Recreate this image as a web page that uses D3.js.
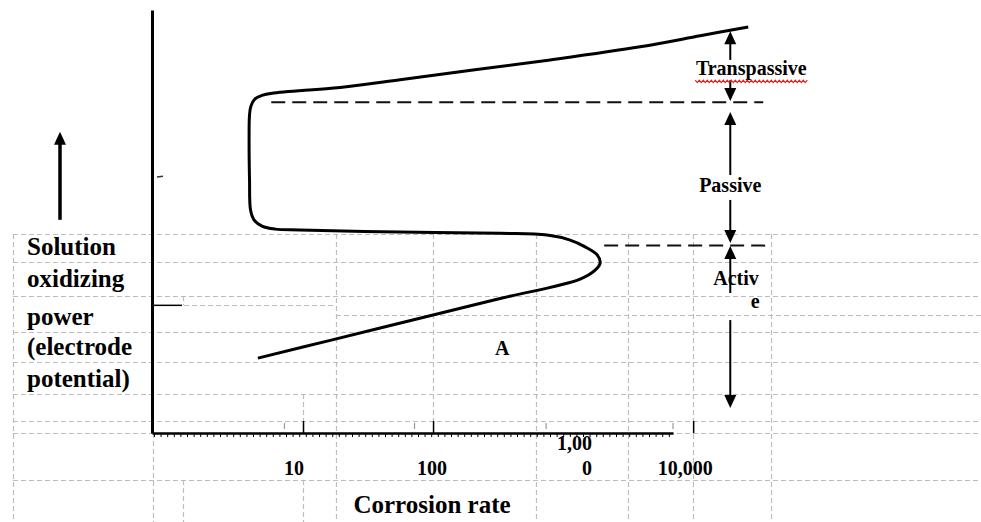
<!DOCTYPE html>
<html>
<head>
<meta charset="utf-8">
<script src="https://cdn.jsdelivr.net/npm/d3@7"></script>
<style>
  body { margin: 0; background: #fff; }
  svg { display: block; }
  text { font-family: "Liberation Serif", "Times New Roman", serif; font-weight: bold; fill: #000; }
</style>
</head>
<body>
<div id="chart"></div>
<script>
// polarization curve (corrosion rate, potential in arbitrary units)
const rate = [4.5, 16.2, 100, 328, 1353, 1764, 1927, 1829, 1478, 1133, 754, 328, 55.8, 9.5, 6.1, 4.84,
              4.2, 3.95, 3.88, 3.85, 3.88, 3.98, 4.28, 4.84, 5.78, 19.3, 55.8, 203, 795, 3916, 11330, 26530];
const potential = [177, 219, 279, 318, 364, 385, 402, 421, 440, 456, 468, 472, 475, 480, 482, 489,
                   504, 527, 598, 693, 752, 773, 790, 798, 803, 817, 835, 858, 882, 913, 939, 960];

// dashed boundaries: [potential, rate from, rate to]
const boundaries = [[782, 5.7, 34580], [443, 2069, 37100]];

// region arrows at one rate: [potential from, potential to]
const arrowRate = 19300;
const arrows = [[882, 950], [834, 785], [610, 759], [551, 449], [331, 442], [267, 59]];

const regionNames = ["Transpassive", "Passive", "Activ", "e"];
const regionLabelE = [846, 570, 350, 296];

const tickValues = [10, 100, 1000, 10000];
const tickLabelLines = [["10"], ["100"], ["1,00", "0"], ["10,000"]];
const faintTicks = [7.2, 72, 740, 7000];
const yTicks = [303];

const yTitle = ["Solution", "oxidizing", "power", "(electrode", "potential)"];
const xTitle = "Corrosion rate";
const pointLabel = { text: "A", rate: 340, e: 184 };

const width = 981, height = 522;

const svg = d3.select("#chart").append("svg")
  .attr("width", width)
  .attr("height", height);

const x = d3.scaleLog().domain([0.69, 7000]).range([152, 673]);
const y = d3.scaleLinear().domain([0, 1000]).range([433, 10]);

// table borders behind the chart (layout of the source document)
const hLines = [[234, 13, 981], [262, 13, 981], [296, 13, 981], [305, 152, 336], [315, 336, 981],
                [332, 13, 981], [362, 13, 981], [394, 13, 981], [421, 13, 981], [433, 13, 981], [480, 13, 981]];
const vLines = [[13, 234, 522], [153, 433, 522], [183, 296, 305], [183, 480, 522], [303, 394, 433],
                [303, 480, 522], [336, 234, 522], [433, 234, 433], [536, 234, 522], [628, 234, 522],
                [693, 234, 522], [771, 234, 522]];

const grid = svg.append("g")
  .attr("stroke", "#bdbdbd")
  .attr("stroke-width", 1.2)
  .attr("stroke-dasharray", "5,3");
grid.selectAll(".h").data(hLines).enter().append("line")
  .attr("x1", d => d[1]).attr("x2", d => d[2])
  .attr("y1", d => d[0] + 0.5).attr("y2", d => d[0] + 0.5);
grid.selectAll(".v").data(vLines).enter().append("line")
  .attr("x1", d => d[0] + 0.5).attr("x2", d => d[0] + 0.5)
  .attr("y1", d => d[1]).attr("y2", d => d[2]);

// y axis
const yAxis = svg.append("g")
  .attr("transform", `translate(${x.range()[0]},0)`)
  .call(d3.axisRight(y).tickValues(yTicks).tickSize(30).tickSizeOuter(0).tickFormat(""));
yAxis.select(".domain").attr("stroke", "#000").attr("stroke-width", 3);
yAxis.selectAll(".tick line").attr("stroke", "#000").attr("stroke-width", 1.5);

// x axis
const xAxis = svg.append("g")
  .attr("transform", `translate(0,${y(0)})`)
  .call(d3.axisTop(x).tickValues([10, 100, 10000]).tickSize(12).tickSizeOuter(0).tickFormat(""));
xAxis.select(".domain").attr("stroke", "#000").attr("stroke-width", 2.5);
xAxis.selectAll(".tick line").attr("stroke", "#000").attr("stroke-width", 1.5);

// little teeth under the axis
svg.append("line")
  .attr("x1", x.range()[0] + 2).attr("x2", x.range()[1])
  .attr("y1", y(0) + 2.5).attr("y2", y(0) + 2.5)
  .attr("stroke", "#000").attr("stroke-width", 3)
  .attr("stroke-dasharray", "1,5.6");

svg.selectAll(".faint").data(faintTicks).enter().append("line")
  .attr("x1", d => x(d)).attr("x2", d => x(d))
  .attr("y1", y(0) - 10).attr("y2", y(0) - 4)
  .attr("stroke", "#999").attr("stroke-width", 1.2);

// small smudge on the y axis
svg.append("line")
  .attr("x1", x.range()[0] + 5).attr("x2", x.range()[0] + 11)
  .attr("y1", y(605)).attr("y2", y(607))
  .attr("stroke", "#333").attr("stroke-width", 1.5);

// curve
const line = d3.line()
  .x(d => x(d[0]))
  .y(d => y(d[1]))
  .curve(d3.curveCatmullRom.alpha(0.5));

svg.append("path")
  .datum(rate.map((r, i) => [r, potential[i]]))
  .attr("d", line)
  .attr("fill", "none")
  .attr("stroke", "#000")
  .attr("stroke-width", 3)
  .attr("stroke-linejoin", "round");

// dashed region boundaries
svg.selectAll(".bound").data(boundaries).enter().append("line")
  .attr("x1", d => x(d[1])).attr("x2", d => x(d[2]))
  .attr("y1", d => y(d[0])).attr("y2", d => y(d[0]))
  .attr("stroke", "#111").attr("stroke-width", 2)
  .attr("stroke-dasharray", "14,7");

// region arrows
function arrowHead(g, px, tipY, dir) {
  const h = 13, w = 6;
  g.append("path")
    .attr("d", `M${px},${tipY} L${px - w},${tipY - dir * h} L${px + w},${tipY - dir * h} Z`)
    .attr("fill", "#000");
}
const ax = x(arrowRate);
const ag = svg.append("g");
arrows.forEach(a => {
  const y0 = y(a[0]), y1 = y(a[1]);
  const dir = y1 > y0 ? 1 : -1;
  ag.append("line")
    .attr("x1", ax).attr("x2", ax)
    .attr("y1", y0).attr("y2", y1 - dir * 8)
    .attr("stroke", "#000").attr("stroke-width", 2);
  arrowHead(ag, ax, y1, dir);
});

// region labels
const labelDx = [21, 0, -17, 25];
const labelAnchor = ["middle", "middle", "start", "middle"];
svg.selectAll(".region").data(regionNames).enter().append("text")
  .attr("x", (d, i) => ax + labelDx[i])
  .attr("y", (d, i) => y(regionLabelE[i]))
  .attr("text-anchor", (d, i) => labelAnchor[i])
  .style("font-size", "20px")
  .text(d => d);

// red spell-check squiggle under "Transpassive"
const sq = [];
for (let k = 0; k <= 56; k++) sq.push([ax - 35 + k * 2, y(regionLabelE[0]) + 5 + (k % 2) * 2.5]);
svg.append("path")
  .attr("d", d3.line()(sq))
  .attr("fill", "none").attr("stroke", "#e02020").attr("stroke-width", 1.1);

// point label
svg.append("text")
  .attr("x", x(pointLabel.rate)).attr("y", y(pointLabel.e))
  .attr("text-anchor", "middle")
  .style("font-size", "20px")
  .text(pointLabel.text);

// x tick labels
const tickDx = [-9, -1, 29, -8];
const tickAnchor = ["middle", "middle", "end", "middle"];
tickValues.forEach((v, i) => {
  const lines = tickLabelLines[i];
  lines.forEach((t, j) => {
    svg.append("text")
      .attr("x", x(v) + tickDx[i])
      .attr("y", 475 - (lines.length - 1 - j) * 25)
      .attr("text-anchor", tickAnchor[i])
      .style("font-size", "20px")
      .text(t);
  });
});

// x title
svg.append("text")
  .attr("x", 432).attr("y", 513)
  .attr("text-anchor", "middle")
  .style("font-size", "25px")
  .text(xTitle);

// y title, one line per table row
const yTitleBase = [255, 287, 325, 355, 387];
svg.selectAll(".ytitle").data(yTitle).enter().append("text")
  .attr("x", 27)
  .attr("y", (d, i) => yTitleBase[i])
  .style("font-size", "25px")
  .text(d => d);

// up arrow beside the title
svg.append("line")
  .attr("x1", 60).attr("x2", 60)
  .attr("y1", y(504)).attr("y2", y(712) + 8)
  .attr("stroke", "#000").attr("stroke-width", 3.5);
arrowHead(svg, 60, y(712), -1);
</script>
</body>
</html>
